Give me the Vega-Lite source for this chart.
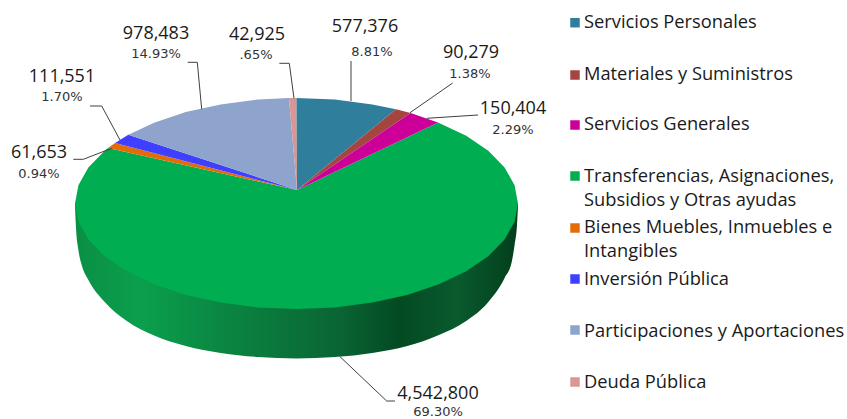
{"$schema":"https://vega.github.io/schema/vega-lite/v6.json","width":847,"height":419,"padding":0,"autosize":{"type":"none"},"background":"white","view":{"stroke":null},
"datasets":{
"side":[{"px":75,"top":203.5,"bot":206},{"px":76,"top":203.5,"bot":228},{"px":78.4,"top":203.5,"bot":250},{"px":82,"top":203.5,"bot":266},{"px":88.4,"top":203.5,"bot":280},{"px":104.7,"top":203.5,"bot":302},{"px":126.8,"top":203.5,"bot":321},{"px":154.1,"top":203.5,"bot":335.5},{"px":185.75,"top":203.5,"bot":346},{"px":220.7,"top":203.5,"bot":353},{"px":258,"top":203.5,"bot":357},{"px":296.5,"top":203.5,"bot":358.5},{"px":335,"top":203.5,"bot":357},{"px":372.3,"top":203.5,"bot":353},{"px":407.25,"top":203.5,"bot":346},{"px":438.9,"top":203.5,"bot":335},{"px":466.2,"top":203.5,"bot":321},{"px":488.3,"top":203.5,"bot":302},{"px":504.6,"top":203.5,"bot":278},{"px":511.7,"top":203.5,"bot":262},{"px":514.6,"top":203.5,"bot":245},{"px":517,"top":203.5,"bot":225},{"px":518,"top":203.5,"bot":206}],
"wedges":[
{"s":"Transferencias","i":0,"px":297,"py":190},{"s":"Transferencias","i":1,"px":438,"py":122.4},{"s":"Transferencias","i":2,"px":466.2,"py":135.7},{"s":"Transferencias","i":3,"px":488.3,"py":150.75},{"s":"Transferencias","i":4,"px":504.6,"py":167.4},{"s":"Transferencias","i":5,"px":514.6,"py":185.2},{"s":"Transferencias","i":6,"px":518,"py":203.5},{"s":"Transferencias","i":7,"px":514.6,"py":221.8},{"s":"Transferencias","i":8,"px":504.6,"py":239.6},{"s":"Transferencias","i":9,"px":488.3,"py":256.25},{"s":"Transferencias","i":10,"px":466.2,"py":271.3},{"s":"Transferencias","i":11,"px":438.9,"py":284.3},{"s":"Transferencias","i":12,"px":407.25,"py":294.9},{"s":"Transferencias","i":13,"px":372.3,"py":302.6},{"s":"Transferencias","i":14,"px":335,"py":307.4},{"s":"Transferencias","i":15,"px":296.5,"py":309},{"s":"Transferencias","i":16,"px":258,"py":307.4},{"s":"Transferencias","i":17,"px":220.7,"py":302.6},{"s":"Transferencias","i":18,"px":185.75,"py":294.9},{"s":"Transferencias","i":19,"px":154.1,"py":284.3},{"s":"Transferencias","i":20,"px":126.8,"py":271.3},{"s":"Transferencias","i":21,"px":104.7,"py":256.25},{"s":"Transferencias","i":22,"px":88.4,"py":239.6},{"s":"Transferencias","i":23,"px":78.4,"py":221.8},{"s":"Transferencias","i":24,"px":75,"py":203.5},{"s":"Transferencias","i":25,"px":78.4,"py":185.2},{"s":"Transferencias","i":26,"px":88.4,"py":167.4},{"s":"Transferencias","i":27,"px":104.7,"py":150.75},{"s":"Transferencias","i":28,"px":108,"py":148},
{"s":"Bienes","i":0,"px":297,"py":190},{"s":"Bienes","i":1,"px":108,"py":148},{"s":"Bienes","i":2,"px":115,"py":143},
{"s":"Inversion","i":0,"px":297,"py":190},{"s":"Inversion","i":1,"px":115,"py":143},{"s":"Inversion","i":2,"px":128.3,"py":134.8},
{"s":"Participaciones","i":0,"px":297,"py":190},{"s":"Participaciones","i":1,"px":128.3,"py":134.8},{"s":"Participaciones","i":2,"px":154.1,"py":122.7},{"s":"Participaciones","i":3,"px":185.75,"py":112.1},{"s":"Participaciones","i":4,"px":220.7,"py":104.4},{"s":"Participaciones","i":5,"px":258,"py":99.6},{"s":"Participaciones","i":6,"px":289,"py":98.1},
{"s":"Deuda","i":0,"px":297,"py":190},{"s":"Deuda","i":1,"px":289,"py":98.1},{"s":"Deuda","i":2,"px":296.5,"py":98},
{"s":"Personales","i":0,"px":297,"py":190},{"s":"Personales","i":1,"px":296.5,"py":98},{"s":"Personales","i":2,"px":335,"py":99.6},{"s":"Personales","i":3,"px":372.3,"py":104.4},{"s":"Personales","i":4,"px":396,"py":109.2},
{"s":"Materiales","i":0,"px":297,"py":190},{"s":"Materiales","i":1,"px":396,"py":109.2},{"s":"Materiales","i":2,"px":410.6,"py":113.1},
{"s":"Generales","i":0,"px":297,"py":190},{"s":"Generales","i":1,"px":410.6,"py":113.1},{"s":"Generales","i":2,"px":438,"py":122.4}],
"leaders":[
{"l":"a","i":0,"px":351,"py":61},{"l":"a","i":1,"px":351,"py":101},
{"l":"b","i":0,"px":452.7,"py":83},{"l":"b","i":1,"px":410,"py":112.7},
{"l":"c","i":0,"px":478,"py":115},{"l":"c","i":1,"px":426.7,"py":118.3},
{"l":"d","i":0,"px":187.7,"py":62.3},{"l":"d","i":1,"px":197.3,"py":62.3},{"l":"d","i":2,"px":201.7,"py":109.3},
{"l":"e","i":0,"px":279.3,"py":63.3},{"l":"e","i":1,"px":289.3,"py":63.3},{"l":"e","i":2,"px":294,"py":98.3},
{"l":"f","i":0,"px":90,"py":106},{"l":"f","i":1,"px":101.7,"py":106},{"l":"f","i":2,"px":120,"py":140},
{"l":"g","i":0,"px":73.3,"py":159.3},{"l":"g","i":1,"px":83.3,"py":159.3},{"l":"g","i":2,"px":111.7,"py":148.3},
{"l":"h","i":0,"px":340,"py":356.7},{"l":"h","i":1,"px":386.7,"py":401},{"l":"h","i":2,"px":395,"py":401}],
"values":[{"t":"577,376","px":365,"py":27},{"t":"90,279","px":471,"py":53},{"t":"150,404","px":513,"py":109},{"t":"978,483","px":156,"py":34},{"t":"42,925","px":257,"py":35},{"t":"111,551","px":62,"py":77},{"t":"61,653","px":39,"py":153},{"t":"4,542,800","px":438,"py":394}],
"pcts":[{"t":"8.81%","px":372,"py":52},{"t":"1.38%","px":470,"py":74},{"t":"2.29%","px":513,"py":130},{"t":"14.93%","px":156,"py":54},{"t":".65%","px":256,"py":55},{"t":"1.70%","px":62,"py":97},{"t":"0.94%","px":39,"py":174},{"t":"69.30%","px":438,"py":412}],
"swatches":[{"s":"Personales","px":575,"py":22.7},{"s":"Materiales","px":575,"py":75},{"s":"Generales","px":575,"py":125},{"s":"Transferencias","px":575,"py":176},{"s":"Bienes","px":575,"py":228},{"s":"Inversion","px":575,"py":279},{"s":"Participaciones","px":575,"py":330},{"s":"Deuda","px":575,"py":382}],
"legendText":[{"t":"Servicios Personales","px":584,"py":22.5},{"t":"Materiales y Suministros","px":584,"py":75},{"t":"Servicios Generales","px":584,"py":125},{"t":"Transferencias, Asignaciones,","px":584,"py":177},{"t":"Subsidios y Otras ayudas","px":584,"py":201},{"t":"Bienes Muebles, Inmuebles e","px":584,"py":228},{"t":"Intangibles","px":584,"py":251.5},{"t":"Inversión Pública","px":584,"py":280},{"t":"Participaciones y Aportaciones","px":584,"py":332},{"t":"Deuda Pública","px":584,"py":382.7}]
},
"layer":[
{"data":{"name":"side"},"mark":{"type":"area","interpolate":"monotone","color":{"gradient":"linear","x1":0,"y1":0,"x2":1,"y2":0,"stops":[{"offset":0,"color":"#0a8f45"},{"offset":0.15,"color":"#0a9f4d"},{"offset":0.42,"color":"#0a7b3d"},{"offset":0.6,"color":"#0a6434"},{"offset":0.73,"color":"#034a22"},{"offset":0.86,"color":"#0a5a2e"},{"offset":1,"color":"#023f1c"}]}},"encoding":{"x":{"field":"px","type":"quantitative","scale":{"domain":[0,847],"nice":false,"zero":false},"axis":null},"y":{"field":"top","type":"quantitative","scale":{"domain":[419,0],"nice":false,"zero":false},"axis":null},"y2":{"field":"bot"}}},
{"data":{"name":"wedges"},"mark":{"type":"line","filled":true,"strokeWidth":0},"encoding":{"x":{"field":"px","type":"quantitative","scale":{"domain":[0,847],"nice":false,"zero":false},"axis":null},"y":{"field":"py","type":"quantitative","scale":{"domain":[419,0],"nice":false,"zero":false},"axis":null},"order":{"field":"i","type":"quantitative"},"detail":{"field":"s"},"color":{"field":"s","type":"nominal","legend":null,"scale":{"domain":["Personales","Materiales","Generales","Transferencias","Bienes","Inversion","Participaciones","Deuda"],"range":["#2f7f9c","#a5453f","#cc0099","#00ad50","#e36c09","#3f3fff","#8ea4cd","#d99694"]}}}},
{"data":{"name":"leaders"},"mark":{"type":"line","color":"#404040","strokeWidth":1},"encoding":{"x":{"field":"px","type":"quantitative","scale":{"domain":[0,847],"nice":false,"zero":false},"axis":null},"y":{"field":"py","type":"quantitative","scale":{"domain":[419,0],"nice":false,"zero":false},"axis":null},"order":{"field":"i","type":"quantitative"},"detail":{"field":"l"}}},
{"data":{"name":"swatches"},"mark":{"type":"point","shape":"square","filled":true,"size":90,"opacity":1},"encoding":{"x":{"field":"px","type":"quantitative","scale":{"domain":[0,847],"nice":false,"zero":false},"axis":null},"y":{"field":"py","type":"quantitative","scale":{"domain":[419,0],"nice":false,"zero":false},"axis":null},"color":{"field":"s","type":"nominal","legend":null,"scale":{"domain":["Personales","Materiales","Generales","Transferencias","Bienes","Inversion","Participaciones","Deuda"],"range":["#2f7f9c","#a5453f","#cc0099","#00ad50","#e36c09","#3f3fff","#8ea4cd","#d99694"]}}}},
{"data":{"name":"values"},"mark":{"type":"text","font":"Open Sans","fontSize":18,"color":"#1a1a1a","align":"center","baseline":"middle"},"encoding":{"x":{"field":"px","type":"quantitative","scale":{"domain":[0,847],"nice":false,"zero":false},"axis":null},"y":{"field":"py","type":"quantitative","scale":{"domain":[419,0],"nice":false,"zero":false},"axis":null},"text":{"field":"t"}}},
{"data":{"name":"pcts"},"mark":{"type":"text","font":"DejaVu Sans","fontSize":13,"color":"#333333","align":"center","baseline":"middle"},"encoding":{"x":{"field":"px","type":"quantitative","scale":{"domain":[0,847],"nice":false,"zero":false},"axis":null},"y":{"field":"py","type":"quantitative","scale":{"domain":[419,0],"nice":false,"zero":false},"axis":null},"text":{"field":"t"}}},
{"data":{"name":"legendText"},"mark":{"type":"text","font":"Open Sans","fontSize":18.3,"color":"#1a1a1a","align":"left","baseline":"middle"},"encoding":{"x":{"field":"px","type":"quantitative","scale":{"domain":[0,847],"nice":false,"zero":false},"axis":null},"y":{"field":"py","type":"quantitative","scale":{"domain":[419,0],"nice":false,"zero":false},"axis":null},"text":{"field":"t"}}}
]}
